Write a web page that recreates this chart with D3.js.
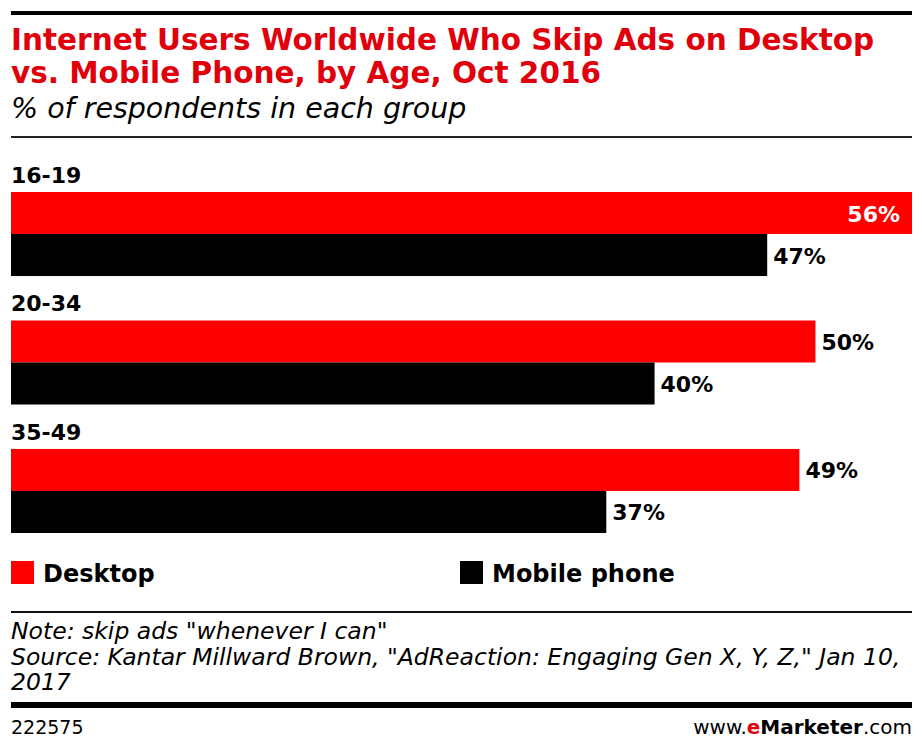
<!DOCTYPE html>
<html>
<head>
<meta charset="utf-8">
<script src="https://cdn.jsdelivr.net/npm/d3@7"></script>
<style>
  body { margin: 0; background: #fff; }
  svg { display: block; }
  text { font-family: "DejaVu Sans", sans-serif; }
  .ital { font-style: italic; }
</style>
</head>
<body>
<div id="chart"></div>
<script>
// data
const ageGroups = ["16-19", "20-34", "35-49"];
const seriesNames = ["Desktop", "Mobile phone"];
const desktopValues = [56, 50, 49];
const mobileValues = [47, 40, 37];
const seriesColors = ["#ff0000", "#000000"];

const titleLines = [
    "Internet Users Worldwide Who Skip Ads on Desktop",
    "vs. Mobile Phone, by Age, Oct 2016"
];
const subtitle = "% of respondents in each group";
const noteLines = [
    "Note: skip ads \"whenever I can\"",
    "Source: Kantar Millward Brown, \"AdReaction: Engaging Gen X, Y, Z,\" Jan 10,",
    "2017"
];
const chartId = "222575";

const width = 922, height = 750;
const left = 11, right = 912;

const svg = d3.select("#chart").append("svg")
    .attr("width", width)
    .attr("height", height);

// top rule
svg.append("rect").attr("x", left).attr("y", 11).attr("width", right - left).attr("height", 4).attr("fill", "#000");

// title
svg.append("g").selectAll("text")
    .data(titleLines)
    .join("text")
    .attr("x", left)
    .attr("y", (d, i) => 50 + i * 33)
    .attr("fill", "#e0000b")
    .style("font-size", "29.5px")
    .style("font-weight", "bold")
    .text(d => d);

svg.append("text")
    .attr("class", "ital")
    .attr("x", left)
    .attr("y", 118)
    .style("font-size", "28.5px")
    .attr("fill", "#000")
    .text(subtitle);

svg.append("rect").attr("x", left).attr("y", 136).attr("width", right - left).attr("height", 2).attr("fill", "#222");

// scales
const rows = ageGroups.map((g, i) => ({ group: g, values: [desktopValues[i], mobileValues[i]] }));

const x = d3.scaleLinear()
    .domain([0, d3.max(desktopValues.concat(mobileValues))])
    .range([left, right]);

const y = d3.scaleBand()
    .domain(ageGroups)
    .range([192, 533])
    .paddingInner(0.346)
    .paddingOuter(0);

const ySub = d3.scaleBand()
    .domain(seriesNames)
    .range([0, y.bandwidth()]);

const color = d3.scaleOrdinal().domain(seriesNames).range(seriesColors);

const groups = svg.append("g").selectAll("g")
    .data(rows)
    .join("g")
    .attr("transform", d => `translate(0,${y(d.group)})`);

groups.append("text")
    .attr("x", left)
    .attr("y", -9)
    .style("font-size", "22px")
    .style("font-weight", "bold")
    .attr("fill", "#000")
    .text(d => d.group);

const bars = groups.selectAll("g.bar")
    .data(d => d.values.map((v, i) => ({ series: seriesNames[i], value: v })))
    .join("g")
    .attr("class", "bar");

bars.append("rect")
    .attr("x", x(0))
    .attr("y", d => ySub(d.series))
    .attr("width", d => x(d.value) - x(0))
    .attr("height", ySub.bandwidth())
    .attr("fill", d => color(d.series));

bars.append("text")
    .attr("y", d => ySub(d.series) + ySub.bandwidth() / 2 + 8.5)
    .style("font-size", "22px")
    .style("font-weight", "bold")
    .text(d => d.value + "%")
    .each(function(d) {
        const t = d3.select(this);
        const w = this.getComputedTextLength();
        if (x(d.value) + 8 + w > right) {
            t.attr("x", x(d.value) - 12).attr("text-anchor", "end").attr("fill", "#fff");
        } else {
            t.attr("x", x(d.value) + 6).attr("fill", "#000");
        }
    });

// legend
const legendX = [left, 460];
const legend = svg.append("g").selectAll("g")
    .data(seriesNames)
    .join("g")
    .attr("transform", (d, i) => `translate(${legendX[i]},561)`);

legend.append("rect")
    .attr("width", 23)
    .attr("height", 23)
    .attr("fill", d => color(d));

legend.append("text")
    .attr("x", 32)
    .attr("y", 21)
    .style("font-size", "24px")
    .style("font-weight", "bold")
    .attr("fill", "#000")
    .text(d => d);

svg.append("rect").attr("x", left).attr("y", 611).attr("width", right - left).attr("height", 2).attr("fill", "#111");

// notes
svg.append("g").selectAll("text")
    .data(noteLines)
    .join("text")
    .attr("class", "ital")
    .attr("x", left)
    .attr("y", (d, i) => 639 + i * 25.5)
    .style("font-size", "23.5px")
    .attr("fill", "#000")
    .text(d => d);

svg.append("rect").attr("x", left).attr("y", 702).attr("width", right - left).attr("height", 6).attr("fill", "#000");

svg.append("text")
    .attr("x", left)
    .attr("y", 734)
    .style("font-size", "19px")
    .attr("fill", "#000")
    .text(chartId);

const brand = svg.append("text")
    .attr("x", right)
    .attr("y", 734)
    .attr("text-anchor", "end")
    .style("font-size", "20px")
    .attr("fill", "#000");
brand.append("tspan").text("www.");
brand.append("tspan").attr("fill", "#e0000b").style("font-weight", "bold").text("e");
brand.append("tspan").style("font-weight", "bold").text("Marketer");
brand.append("tspan").text(".com");
</script>
</body>
</html>
